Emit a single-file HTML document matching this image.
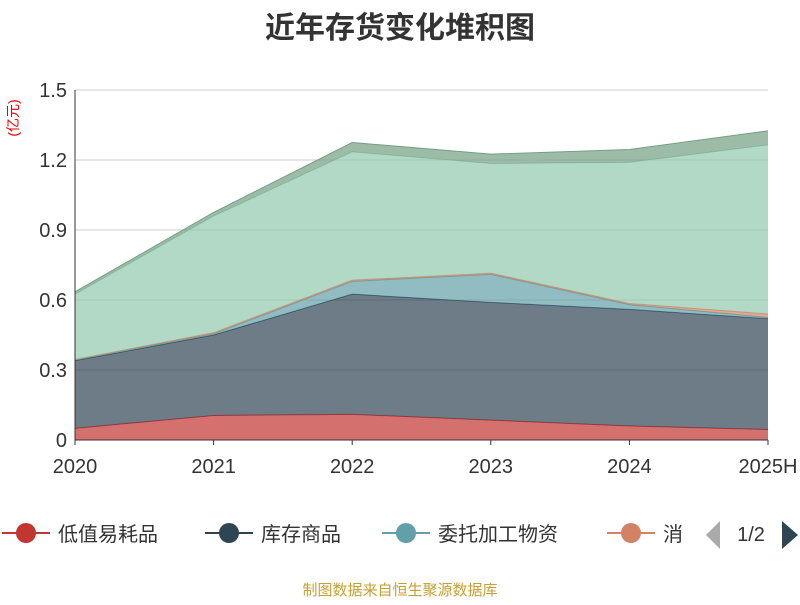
<!DOCTYPE html>
<html><head><meta charset="utf-8"><style>
body{margin:0;background:#fff;}
svg text{font-family:"Liberation Sans","Noto Sans CJK SC",sans-serif;}
</style></head><body>
<svg id="chart" width="800" height="600" viewBox="0 0 800 600">
<text x="400" y="38" text-anchor="middle" font-size="30" font-weight="bold" fill="#333">近年存货变化堆积图</text>
<text transform="translate(18,118) rotate(-90)" text-anchor="middle" font-size="14" fill="#e00">(亿元)</text>
<g id="grid"></g>
<g id="areas"></g>
<g id="axes"></g>
<g id="legend"></g>
<text x="400" y="595" text-anchor="middle" font-size="15" fill="#c8a032">制图数据来自恒生聚源数据库</text>
</svg>
<script>
const categories=["2020","2021","2022","2023","2024","2025H"];
const seriesNames=["低值易耗品","库存商品","委托加工物资","消耗性生物资产","原材料","在产品"];
const s1=[0.05,0.105,0.11,0.085,0.06,0.045];
const s2=[0.29,0.345,0.515,0.505,0.50,0.475];
const s3=[0.005,0.005,0.055,0.12,0.02,0.005];
const s4=[0.0,0.005,0.005,0.005,0.005,0.015];
const s5=[0.28,0.5,0.55,0.47,0.605,0.725];
const s6=[0.01,0.015,0.04,0.04,0.055,0.06];
const yTicks=[0,0.3,0.6,0.9,1.2,1.5];
const yTickLabels=["0","0.3","0.6","0.9","1.2","1.5"];
const colors=["#c23531","#2f4554","#61a0a8","#d48265","#91c7ae","#749f83"];
const X0=75,X1=768,Y0=440,Y1=90;
const xs=i=>X0+(X1-X0)*i/(categories.length-1);
const ys=v=>Y0-(Y0-Y1)*v/1.5;
const NS="http://www.w3.org/2000/svg";
function mk(t,a,p){const e=document.createElementNS(NS,t);for(const k in a)e.setAttribute(k,a[k]);p.appendChild(e);return e;}
const grid=document.getElementById('grid');
yTicks.forEach((t,i)=>{
 const l=mk('line',{x1:X0,x2:X1,y1:ys(t),y2:ys(t),stroke:i?"#ccc":"#333","stroke-width":1},grid);
 
 const tx=mk('text',{x:X0-8,y:ys(t)+7,"text-anchor":"end","font-size":20,fill:"#333"},grid);
 tx.textContent=yTickLabels[i];
 
});
const all=[s1,s2,s3,s4,s5,s6];
const areas=document.getElementById('areas');
let base=categories.map(()=>0);
all.forEach((s,k)=>{
 const top=base.map((b,i)=>b+s[i]);
 let d="M"+top.map((v,i)=>xs(i)+","+ys(v)).join("L");
 for(let i=base.length-1;i>=0;i--)d+="L"+xs(i)+","+ys(base[i]);
 d+="Z";
 const p=mk('path',{d:d,fill:colors[k],"fill-opacity":0.7},areas);
 
 const ln=mk('polyline',{points:top.map((v,i)=>xs(i)+","+ys(v)).join(" "),fill:"none",stroke:colors[k],"stroke-width":1},areas);
 
 base=top;
});
const axes=document.getElementById('axes');
const ya=mk('line',{x1:X0,x2:X0,y1:Y1,y2:Y0,stroke:"#333"},axes);

const xa=mk('line',{x1:X0,x2:X1,y1:Y0,y2:Y0,stroke:"#333"},axes);

categories.forEach((c,i)=>{
 mk('line',{x1:xs(i),x2:xs(i),y1:Y0,y2:Y0+5,stroke:"#333"},axes);
 const t=mk('text',{x:xs(i),y:Y0+33,"text-anchor":"middle","font-size":20,fill:"#333"},axes);
 t.textContent=c;
 
});
const lg=document.getElementById('legend');
const lx=[0,203,380,605];
for(let k=0;k<4;k++){
 const g=mk('g',{},lg);
 
 mk('line',{x1:lx[k]+2,x2:lx[k]+50,y1:533,y2:533,stroke:colors[k],"stroke-width":2},g);
 mk('circle',{cx:lx[k]+26,cy:533,r:10,fill:colors[k]},g);
 const t=mk('text',{x:lx[k]+58,y:541,"font-size":20,fill:"#333"},g);
 t.textContent=k<3?seriesNames[k]:"消";
}
const pv=mk('path',{d:"M720,521L706,535L720,549Z",fill:"#aaa"},lg);

const pt=mk('text',{x:751,y:541,"text-anchor":"middle","font-size":20,fill:"#333"},lg);pt.textContent="1/2";

const nx=mk('path',{d:"M782,521L798,535L782,549Z",fill:"#2f4554"},lg);

</script>
</body></html>
